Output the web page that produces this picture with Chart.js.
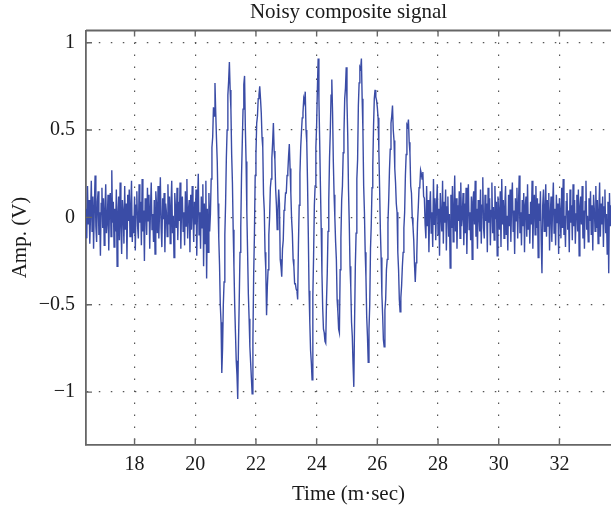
<!DOCTYPE html>
<html>
<head>
<meta charset="utf-8">
<script src="https://cdn.jsdelivr.net/npm/chart.js@4.4.0/dist/chart.umd.min.js"></script>
<style>
html, body { margin: 0; padding: 0; background: #fff; overflow: hidden; }
</style>
</head>
<body>
<canvas id="c" width="611" height="511"></canvas>
<script>
// sampling of the trace (m·sec)
var t0 = 16.4, dt = 0.025;

// 16.4 .. 20.475 ms, background noise
var noiseBefore = [
  0.05, -0.12, 0.18, -0.04, 0.10, -0.15, 0.02, 0.21,
  -0.08, 0.12, -0.18, 0.06, 0.24, -0.05, -0.14, 0.09,
  0.15, -0.10, 0.03, -0.22, 0.08, 0.17, -0.06, 0.11,
  -0.16, 0.04, 0.19, -0.09, -0.02, 0.13, -0.19, 0.07,
  0.14, -0.11, 0.27, -0.03, 0.09, -0.17, 0.05, -0.08,
  0.16, -0.28, 0.02, 0.12, -0.13, 0.20, -0.04, -0.21,
  0.10, 0.03, -0.15, 0.18, -0.07, 0.08, -0.24, 0.13,
  -0.02, 0.16, -0.11, 0.06, 0.21, -0.14, 0.01, -0.09,
  0.12, -0.19, 0.07, 0.15, -0.05, -0.12, 0.19, -0.03,
  0.09, -0.16, 0.22, -0.08, 0.04, -0.25, 0.11, 0.06,
  -0.10, 0.17, -0.02, 0.13, -0.18, 0.05, 0.20, -0.07,
  0.02, -0.14, 0.10, -0.21, 0.15, 0.07, -0.09, 0.18,
  -0.12, 0.04, 0.23, -0.06, -0.17, 0.11, -0.01, 0.14,
  -0.20, 0.08, 0.03, -0.11, 0.19, -0.04, 0.12, -0.15,
  0.06, 0.21, -0.09, 0.01, -0.23, 0.14, 0.05, -0.06,
  0.17, -0.13, 0.09, -0.02, 0.20, -0.18, 0.07, 0.12,
  -0.08, 0.03, -0.16, 0.15, -0.05, 0.22, -0.12, 0.04,
  0.10, -0.20, 0.13, -0.07, 0.18, 0.02, -0.14, 0.09,
  -0.04, 0.16, -0.22, 0.07, 0.25, -0.10, 0.03, -0.18,
  0.12, -0.06, 0.19, -0.28, 0.08, -0.15, 0.21, -0.35,
  0.05, -0.20, 0.14, -0.08
];

// 20.5 .. 27.575 ms, the composite burst
var burst = [
  0.02, 0.22, 0.40, 0.46, 0.63, 0.58, 0.77, 0.60,
  0.45, 0.32, 0.08, -0.12, -0.27, -0.50, -0.60, -0.89,
  -0.75, -0.50, -0.37, -0.10, 0.08, 0.34, 0.50, 0.70,
  0.78, 0.89, 0.73, 0.62, 0.36, 0.20, -0.07, -0.28,
  -0.50, -0.66, -0.82, -0.90, -1.04, -0.72, -0.47, -0.20,
  -0.06, 0.24, 0.43, 0.62, 0.76, 0.81, 0.52, 0.32,
  0.03, -0.20, -0.44, -0.58, -0.74, -0.83, -0.92, -1.01,
  -0.70, -0.33, -0.10, 0.24, 0.36, 0.54, 0.58, 0.68,
  0.70, 0.75, 0.68, 0.60, 0.46, 0.40, 0.13, 0.04,
  -0.20, -0.30, -0.56, -0.40, -0.30, -0.10, 0.00, 0.17,
  0.22, 0.34, 0.43, 0.54, 0.38, 0.33, 0.16, 0.07,
  -0.07, 0.04, 0.16, 0.08, -0.24, -0.28, -0.34, -0.18,
  -0.13, 0.04, 0.06, 0.14, 0.14, 0.24, 0.26, 0.35,
  0.42, 0.28, 0.14, -0.01, -0.09, -0.24, -0.28, -0.38,
  -0.38, -0.41, -0.42, -0.47, -0.16, 0.07, 0.25, 0.40,
  0.49, 0.57, 0.60, 0.68, 0.66, 0.72, 0.50, 0.43,
  0.20, -0.09, -0.42, -0.60, -0.76, -0.83, -0.93, -0.45,
  -0.22, 0.07, 0.18, 0.40, 0.53, 0.74, 0.91, 0.68,
  0.44, 0.18, -0.06, -0.32, -0.52, -0.64, -0.66, -0.71,
  -0.72, -0.48, -0.32, -0.08, 0.10, 0.34, 0.49, 0.70,
  0.79, 0.60, 0.32, 0.13, 0.00, -0.14, -0.24, -0.47,
  -0.54, -0.64, -0.66, -0.30, -0.12, 0.10, 0.18, 0.37,
  0.48, 0.68, 0.74, 0.86, 0.66, 0.47, 0.16, -0.03,
  -0.28, -0.40, -0.60, -0.68, -0.84, -0.97, -0.60, -0.28,
  -0.09, 0.22, 0.33, 0.64, 0.77, 0.86, 0.85, 0.91,
  0.68, 0.50, 0.18, 0.03, -0.20, -0.34, -0.57, -0.68,
  -0.83, -0.64, -0.50, -0.18, -0.04, 0.17, 0.29, 0.52,
  0.68, 0.73, 0.69, 0.67, 0.63, 0.57, 0.39, 0.17,
  -0.07, -0.23, -0.44, -0.56, -0.70, -0.74, -0.53, -0.47,
  -0.30, -0.24, -0.03, 0.10, 0.27, 0.39, 0.54, 0.58,
  0.64, 0.50, 0.44, 0.28, 0.20, 0.08, 0.03, -0.20,
  -0.30, -0.47, -0.54, -0.46, -0.39, -0.28, -0.20, -0.06,
  0.03, 0.24, 0.36, 0.53, 0.52, 0.56, 0.43, 0.37,
  0.18, 0.14, 0.00, -0.05, -0.13, -0.27, -0.37, -0.26,
  -0.22, -0.03, 0.06, 0.17, 0.18, 0.27, 0.25, 0.22,
  0.26, 0.12, 0.11, -0.04
];

// 27.6 .. 33.7 ms, background noise
var noiseAfter = [
  -0.12, 0.18, -0.05, 0.10, -0.20, 0.06, 0.15, -0.09,
  0.03, -0.17, 0.22, -0.04, 0.11, -0.13, 0.07, 0.19,
  -0.10, 0.05, -0.22, 0.14, 0.01, -0.08, 0.21, -0.15,
  0.09, -0.03, 0.16, -0.19, 0.06, 0.12, -0.11, 0.02,
  -0.29, 0.13, -0.06, 0.18, -0.14, 0.04, 0.24, -0.08,
  0.11, -0.18, 0.07, -0.02, 0.15, -0.12, 0.20, -0.05,
  0.01, 0.14, -0.16, 0.08, -0.09, 0.17, -0.21, 0.06,
  0.19, -0.07, 0.03, -0.13, 0.12, -0.24, 0.09, 0.15,
  -0.04, 0.21, -0.11, 0.05, -0.18, 0.10, 0.02, -0.08,
  0.16, -0.15, 0.07, 0.23, -0.06, -0.12, 0.13, -0.02,
  0.08, -0.20, 0.17, -0.03, 0.11, -0.16, 0.04, 0.20,
  -0.09, 0.06, -0.13, 0.18, -0.01, 0.09, -0.22, 0.12,
  0.03, -0.07, 0.15, -0.17, 0.22, -0.04, 0.10, -0.12,
  0.06, 0.18, -0.10, 0.01, -0.19, 0.13, -0.05, 0.16,
  -0.14, 0.08, 0.20, -0.08, 0.04, -0.21, 0.11, -0.02,
  0.17, -0.12, 0.06, 0.24, -0.09, 0.03, -0.16, 0.10,
  -0.05, 0.14, -0.20, 0.07, 0.12, -0.11, 0.19, -0.07,
  0.02, -0.15, 0.09, -0.04, 0.21, -0.18, 0.05, 0.13,
  -0.10, 0.18, -0.06, 0.11, -0.23, 0.08, -0.02, 0.15,
  -0.13, -0.32, 0.07, 0.16, -0.08, 0.04, 0.19, -0.11,
  0.10, -0.05, 0.14, -0.19, 0.02, 0.12, -0.14, 0.06,
  0.20, -0.09, 0.05, -0.16, 0.13, -0.03, 0.08, -0.21,
  0.11, 0.03, -0.12, 0.17, -0.06, 0.22, -0.10, 0.01,
  -0.17, 0.09, 0.14, -0.07, 0.04, -0.20, 0.16, -0.03,
  0.07, -0.13, 0.19, -0.05, 0.10, -0.15, 0.02, 0.13,
  -0.08, 0.16, -0.22, 0.06, 0.12, -0.04, 0.18, -0.12,
  0.04, -0.18, 0.09, 0.21, -0.07, 0.01, -0.14, 0.11,
  -0.02, 0.15, -0.10, 0.07, -0.19, 0.13, 0.05, -0.08,
  0.18, -0.06, 0.10, -0.15, 0.03, 0.20, -0.11, 0.08,
  -0.04, 0.12, -0.17, 0.06, 0.16, -0.09, 0.02, -0.21,
  0.09, -0.32, 0.14, -0.05, 0.07
];

var xTicks = [18, 20, 22, 24, 26, 28, 30, 32];
var yTicks = [-1, -0.5, 0, 0.5, 1];
var xMin = 16.4, xMax = 33.7;
var yMin = -1.3, yMax = 1.07;

var amp = noiseBefore.concat(burst, noiseAfter);
var points = amp.map(function (v, i) { return {x: t0 + i * dt, y: v}; });

var serif = '"Liberation Serif", "DejaVu Serif", serif';
var axisInk = '#666666';
var textInk = '#1a1a1a';

function fixTicks(list) {
  return function (scale) { scale.ticks = list.map(function (v) { return {value: v}; }); };
}

// MATLAB-like box: top edge, inward tick marks, titles
var frame = {
  id: 'frame',
  afterDraw: function (chart) {
    var ctx = chart.ctx, a = chart.chartArea, xs = chart.scales.x, ys = chart.scales.y;
    ctx.save();
    ctx.strokeStyle = axisInk;
    ctx.lineWidth = 1.8;
    ctx.beginPath();
    ctx.moveTo(a.left, a.top);
    ctx.lineTo(a.right, a.top);
    ctx.stroke();
    ctx.lineWidth = 1.4;
    ctx.beginPath();
    xTicks.forEach(function (t) {
      var p = xs.getPixelForValue(t);
      ctx.moveTo(p, a.bottom); ctx.lineTo(p, a.bottom - 6);
      ctx.moveTo(p, a.top); ctx.lineTo(p, a.top + 6);
    });
    yTicks.forEach(function (t) {
      var p = ys.getPixelForValue(t);
      ctx.moveTo(a.left, p); ctx.lineTo(a.left + 6, p);
    });
    ctx.stroke();

    ctx.fillStyle = textInk;
    ctx.font = '21px ' + serif;
    ctx.textAlign = 'center';
    ctx.textBaseline = 'middle';
    ctx.fillText('Noisy composite signal', (a.left + a.right) / 2, 12);
    ctx.fillText('Time (m\u00b7sec)', (a.left + a.right) / 2, 494);
    ctx.translate(20, (a.top + a.bottom) / 2);
    ctx.rotate(-Math.PI / 2);
    ctx.fillText('Amp. (V)', 0, 0);
    ctx.restore();
  }
};

new Chart(document.getElementById('c'), {
  type: 'line',
  data: {
    datasets: [{
      data: points,
      borderColor: '#3a4ca6',
      borderWidth: 1.4,
      pointRadius: 0,
      tension: 0,
      fill: false
    }]
  },
  options: {
    responsive: false,
    animation: false,
    events: [],
    layout: {padding: {top: 30.5, right: 0, left: 0, bottom: 0}},
    plugins: {legend: {display: false}, title: {display: false}, tooltip: {enabled: false}},
    scales: {
      x: {
        type: 'linear',
        min: xMin, max: xMax,
        afterBuildTicks: fixTicks(xTicks),
        afterFit: function (s) { s.height = 66.5; },
        grid: {color: '#555555', lineWidth: 1.2, drawTicks: false},
        border: {display: true, color: axisInk, width: 1.8, dash: [1.5, 10.5]},
        ticks: {color: textInk, padding: 8, font: {family: serif, size: 20}, maxRotation: 0}
      },
      y: {
        type: 'linear',
        min: yMin, max: yMax,
        afterBuildTicks: fixTicks(yTicks),
        afterFit: function (s) { s.width = 86; },
        grid: {color: '#555555', lineWidth: 1.2, drawTicks: false},
        border: {display: true, color: axisInk, width: 1.8, dash: [1.5, 10.5]},
        ticks: {
          color: textInk, padding: 11, font: {family: serif, size: 20},
          callback: function (v) { return v < 0 ? '\u2212' + Math.abs(v) : String(v); }
        }
      }
    }
  },
  plugins: [frame]
});
</script>
</body>
</html>
